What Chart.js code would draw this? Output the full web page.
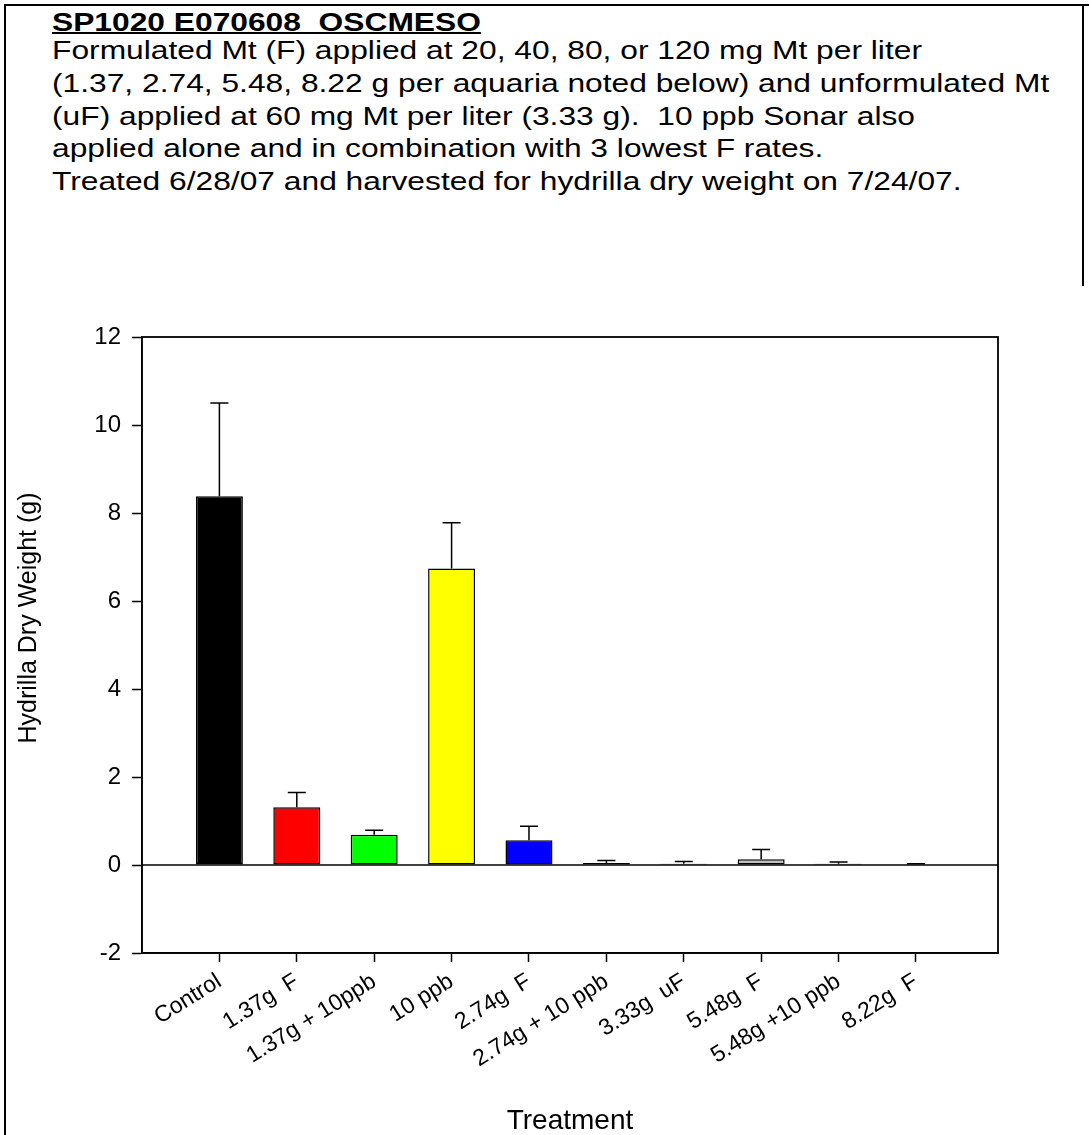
<!DOCTYPE html>
<html>
<head>
<meta charset="utf-8">
<script src="https://cdn.jsdelivr.net/npm/chart.js@4.4.1/dist/chart.umd.min.js"></script>
<style>
html,body{margin:0;padding:0;background:#fff;}
#wrap{position:relative;width:1089px;height:1135px;overflow:hidden;font-family:Arial,"Liberation Sans",sans-serif;color:#000;}
#frame{position:absolute;left:4px;top:4px;width:1200px;height:1200px;border-left:2px solid #000;border-top:2px solid #000;}
#rb{position:absolute;left:1082px;top:4px;width:2px;height:282px;background:#000;}
.ln{position:absolute;left:52px;font-size:25px;line-height:32.7px;white-space:pre;transform:scaleX(1.27);transform-origin:0 0;}
.ttl{font-weight:bold;text-decoration:underline;text-decoration-thickness:2px;}
#c{position:absolute;left:0;top:0;}
</style>
</head>
<body>
<div id="wrap">
  <div id="frame"></div>
  <div id="rb"></div>
  <div class="ln ttl" style="top:5.7px">SP1020 E070608_OSCMESO</div>
  <div class="ln" style="top:34.3px">Formulated Mt (F) applied at 20, 40, 80, or 120 mg Mt per liter</div>
  <div class="ln" style="top:67px">(1.37, 2.74, 5.48, 8.22 g per aquaria noted below) and unformulated Mt</div>
  <div class="ln" style="top:99.7px">(uF) applied at 60 mg Mt per liter (3.33 g).  10 ppb Sonar also</div>
  <div class="ln" style="top:132.4px">applied alone and in combination with 3 lowest F rates.</div>
  <div class="ln" style="top:165px">Treated 6/28/07 and harvested for hydrilla dry weight on 7/24/07.</div>
  <canvas id="c" width="1089" height="1135"></canvas>
</div>
<script>
const categories = ['Control', '1.37g  F', '1.37g + 10ppb', '10 ppb', '2.74g  F', '2.74g + 10 ppb', '3.33g  uF', '5.48g  F', '5.48g +10 ppb', '8.22g  F'];
const means = [8.38, 1.31, 0.69, 6.74, 0.56, 0.045, 0.03, 0.13, 0.03, 0.01];
const upperErrors = [2.12, 0.34, 0.10, 1.04, 0.32, 0.055, 0.047, 0.22, 0.04, 0.02];
const barColors = ['#000000', '#ff0000', '#00ff00', '#ffff00', '#0000ff', '#ff00ff', '#00ffff', '#c0c0c0', '#808080', '#800000'];
const yTickValues = [-2, 0, 2, 4, 6, 8, 10, 12];
const yTitle = 'Hydrilla Dry Weight (g)';
const xTitle = 'Treatment';

const FONT = 'Arial, "Liberation Sans", sans-serif';

const decor = {
  id: 'decor',
  beforeDatasetsDraw(chart) {
    const {ctx, chartArea: a, scales: {y}} = chart;
    const y0 = y.getPixelForValue(0);
    ctx.save();
    ctx.strokeStyle = '#000';
    ctx.lineWidth = 1.5;
    ctx.beginPath();
    ctx.moveTo(a.left, y0);
    ctx.lineTo(a.right, y0);
    ctx.stroke();
    ctx.restore();
  },
  afterDatasetsDraw(chart) {
    const {ctx, chartArea: a, scales: {x, y}} = chart;
    ctx.save();
    ctx.strokeStyle = '#000';
    ctx.lineWidth = 1.5;
    means.forEach((m, i) => {
      const px = x.getPixelForValue(i + 1);
      const yb = y.getPixelForValue(m);
      const yt = y.getPixelForValue(m + upperErrors[i]);
      ctx.beginPath();
      ctx.moveTo(px, yb);
      ctx.lineTo(px, yt);
      ctx.moveTo(px - 9, yt);
      ctx.lineTo(px + 9, yt);
      ctx.stroke();
    });
    ctx.lineWidth = 1.8;
    ctx.strokeRect(a.left, a.top, a.right - a.left, a.bottom - a.top);
    ctx.restore();
  },
  afterDraw(chart) {
    const {ctx} = chart;
    ctx.save();
    ctx.fillStyle = '#000';
    ctx.font = '25px ' + FONT;
    ctx.textAlign = 'center';
    ctx.textBaseline = 'middle';
    ctx.translate(29, 618);
    ctx.rotate(-Math.PI / 2);
    ctx.fillText(yTitle, 0, 0);
    ctx.restore();
  }
};

new Chart(document.getElementById('c'), {
  type: 'bar',
  data: {
    datasets: [{
      data: means.map((v, i) => ({x: i + 1, y: v})),
      backgroundColor: barColors,
      borderColor: '#000',
      borderWidth: 1.5,
      borderSkipped: false,
      barPercentage: 0.607,
      categoryPercentage: 1
    }]
  },
  options: {
    responsive: false,
    devicePixelRatio: 1,
    animation: false,
    layout: {padding: {left: 0, top: 337, right: 91, bottom: 0}},
    plugins: {legend: {display: false}, tooltip: {enabled: false}, title: {display: false}},
    scales: {
      x: {
        type: 'linear',
        min: 0,
        max: 11.06,
        offset: false,
        afterBuildTicks: (s) => { s.ticks = categories.map((c, i) => ({value: i + 1})); },
        afterFit: (s) => { s.height = 182; },
        grid: {display: true, offset: false, drawOnChartArea: false, drawTicks: true, tickLength: 9, tickColor: '#000', tickWidth: 1.5},
        border: {display: true, color: '#000', width: 1.5},
        ticks: {
          autoSkip: false,
          maxRotation: 32,
          minRotation: 32,
          padding: 6,
          color: '#000',
          font: {family: FONT, size: 23},
          callback: (v) => categories[Math.round(v) - 1] || ''
        },
        title: {display: true, text: xTitle, color: '#000', font: {family: FONT, size: 28, lineHeight: 1}, padding: {top: 0, bottom: 0}}
      },
      y: {
        type: 'linear',
        min: -2,
        max: 12,
        afterBuildTicks: (s) => { s.ticks = yTickValues.map(v => ({value: v})); },
        afterFit: (s) => { s.width = 142; },
        grid: {display: true, drawOnChartArea: false, drawTicks: true, tickLength: 10, tickColor: '#000', tickWidth: 1.5},
        border: {display: true, color: '#000', width: 1.5},
        ticks: {color: '#000', padding: 11, font: {family: FONT, size: 24}, callback: (v) => String(v)}
      }
    }
  },
  plugins: [decor]
});
</script>
</body>
</html>
